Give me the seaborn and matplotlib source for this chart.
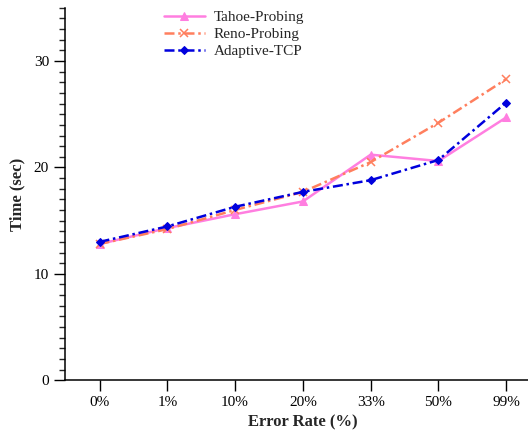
import matplotlib
matplotlib.use("Agg")
import matplotlib.pyplot as plt
from matplotlib.ticker import MultipleLocator
import pandas as pd
import seaborn as sns

error_rates = ["0%", "1%", "10%", "20%", "33%", "50%", "99%"]
tahoe_probing = [12.8, 14.3, 15.6, 16.8, 21.2, 20.6, 24.7]
reno_probing = [12.8, 14.2, 16.0, 17.7, 20.5, 24.2, 28.3]
adaptive_tcp = [13.0, 14.45, 16.3, 17.7, 18.8, 20.7, 26.1]

series_names = ["Tahoe-Probing", "Reno-Probing", "Adaptive-TCP"]
series_values = [tahoe_probing, reno_probing, adaptive_tcp]

sns.set_style("ticks")
plt.rcParams["font.family"] = ["Liberation Serif", "DejaVu Serif"]

fig = plt.figure(figsize=(5.28, 4.36), dpi=100)
ax = fig.add_axes([0.123, 0.128, 0.90, 0.854])

styles = {
    "Tahoe-Probing": dict(color="#ff7ee0", marker="^", markersize=6,
                          markeredgecolor="#ff7ee0", linestyle="-"),
    "Reno-Probing": dict(color="#ff7f5e", marker="x", markersize=6, markeredgewidth=1.1,
                         markeredgecolor="#ff7f5e", dashes=(4, 1.5, 1, 1.5)),
    "Adaptive-TCP": dict(color="#0000dd", marker="D", markersize=4.5,
                         markeredgecolor="#0000dd", dashes=(4, 1.5, 1, 1.5)),
}

for name, vals in zip(series_names, series_values):
    df = pd.DataFrame({"rate": error_rates, "time": vals})
    sns.lineplot(data=df, x="rate", y="time", label=name, linewidth=1.8,
                 sort=False, ax=ax, **styles[name])

ax.set_xlim(-0.51, 6.5)
ax.set_ylim(0, 35)
ax.yaxis.set_major_locator(MultipleLocator(10))
ax.yaxis.set_minor_locator(MultipleLocator(1))
ax.tick_params(axis="both", which="major", direction="out", length=8, width=1,
               labelsize=11, colors="black")
ax.tick_params(axis="y", which="minor", direction="out", length=4, width=1)
for s in ["top", "right"]:
    ax.spines[s].set_visible(False)
for s in ["left", "bottom"]:
    ax.spines[s].set_linewidth(1.1)
    ax.spines[s].set_color("black")

ax.set_xlabel("Error Rate (%)", fontsize=12, fontweight="bold", labelpad=4)
ax.set_ylabel("Time (sec)", fontsize=12, fontweight="bold", labelpad=6)

handles, labels = ax.get_legend_handles_labels()
ax.legend(handles, labels, loc="upper left", bbox_to_anchor=(0.195, 1.01),
          frameon=False, fontsize=11, handlelength=2.7, handletextpad=0.55,
          labelspacing=0.22, borderaxespad=0)

fig.savefig("out.png", dpi=100)
